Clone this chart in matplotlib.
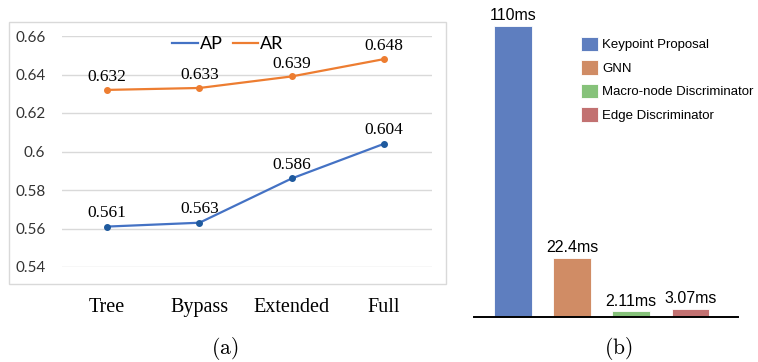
import matplotlib
matplotlib.use("Agg")
from matplotlib import pyplot as plt
from matplotlib.patches import Rectangle, Patch
from matplotlib.lines import Line2D

# datos panel (a)
variantes = ["Tree", "Bypass", "Extended", "Full"]
ap = [0.561, 0.563, 0.586, 0.604]
ar = [0.632, 0.633, 0.639, 0.648]
yticks = [0.54, 0.56, 0.58, 0.6, 0.62, 0.64, 0.66]

# datos panel (b)
modulos = ["Keypoint Proposal", "GNN", "Macro-node Discriminator", "Edge Discriminator"]
tiempos = [110, 22.4, 2.11, 3.07]
etiquetas = ["110ms", "22.4ms", "2.11ms", "3.07ms"]
colores = ["#5E7EBF", "#D08C65", "#86C27A", "#C27171"]

W, H = 758, 362
fig = plt.figure(figsize=(W / 100, H / 100), dpi=100)

# marco gris estilo excel
fig.patches.append(Rectangle((9 / W, 1 - 284 / H), 437 / W, 262 / H,
                             transform=fig.transFigure, fill=False,
                             edgecolor="#d9d9d9", lw=1))

# ---- (a) lineas ----
ax1 = fig.add_axes([62 / W, 1 - 267 / H, 370 / W, 231 / H])
x = list(range(len(variantes)))
ax1.plot(x, ap, color="#4472C4", lw=1.6, marker="o", ms=4,
         mfc="#1F5A9E", mec="#1F5A9E")
ax1.plot(x, ar, color="#ED7D31", lw=1.6, marker="o", ms=4,
         mfc="#ED7D31", mec="#ED7D31")
for xi, v in zip(x, ap):
    ax1.annotate("%.3f" % v, (xi, v), xytext=(0, 4), textcoords="offset points",
                 ha="center", va="bottom", family="Liberation Serif", fontsize=12.5)
for xi, v in zip(x, ar):
    ax1.annotate("%.3f" % v, (xi, v), xytext=(0, 3.5), textcoords="offset points",
                 ha="center", va="bottom", family="Liberation Serif", fontsize=12.5)
ax1.set_xlim(-0.49, 3.52)
ax1.set_ylim(0.54, 0.66)
ax1.set_yticks(yticks)
ax1.set_yticklabels(["%g" % t for t in yticks], family="Lato", fontsize=11, color="#333333")
ax1.set_xticks(x)
ax1.set_xticklabels(variantes, family="Liberation Serif", fontsize=14.5)
ax1.tick_params(axis="y", length=0, pad=12)
ax1.tick_params(axis="x", length=0, pad=22)
ax1.grid(axis="y", color="#d9d9d9", lw=1)
ax1.set_axisbelow(True)
for s in ax1.spines.values():
    s.set_visible(False)
lineas = [Line2D([], [], color="#4472C4", lw=1.6), Line2D([], [], color="#ED7D31", lw=1.6)]
ax1.legend(lineas, ["AP", "AR"], loc="center", bbox_to_anchor=(228 / W, 1 - 44 / H),
           bbox_transform=fig.transFigure, ncol=2, frameon=False,
           prop={"family": "Lato", "size": 13}, handlelength=1.4,
           handletextpad=0.1, columnspacing=0.6, borderpad=0)

# ---- (b) barras ----
ax2 = fig.add_axes([474 / W, 1 - 317 / H, 264 / W, 307 / H])
pos = list(range(len(tiempos)))
ax2.bar(pos, tiempos, width=0.63, color=colores, edgecolor="white", lw=0.6)
for p, v, t in zip(pos, tiempos, etiquetas):
    ax2.text(p, v + 1.0, t, ha="center", va="bottom",
             family="Liberation Sans", fontsize=11.5)
ax2.set_xlim(-0.66, 3.81)
ax2.set_ylim(0, 116)
ax2.set_xticks([])
ax2.set_yticks([])
for s in ["top", "right", "left"]:
    ax2.spines[s].set_visible(False)
ax2.spines["bottom"].set_linewidth(1.4)
handles = [Patch(facecolor=c, edgecolor="white", lw=0.6) for c in colores]
ax2.legend(handles, modulos, loc="upper left", bbox_to_anchor=(574 / W, 1 - 30 / H),
           bbox_transform=fig.transFigure, frameon=False,
           prop={"family": "Liberation Sans", "size": 9.5}, handlelength=1.3,
           handleheight=1.3, handletextpad=0.35, labelspacing=0.68, borderpad=0)

# etiquetas de subfigura
fig.text(225 / W, 1 - 348 / H, r"$\mathrm{(a)}$", ha="center", va="center",
         fontsize=15.5, math_fontfamily="cm")
fig.text(618 / W, 1 - 348 / H, r"$\mathrm{(b)}$", ha="center", va="center",
         fontsize=15.5, math_fontfamily="cm")

fig.savefig("out.png", dpi=100)
